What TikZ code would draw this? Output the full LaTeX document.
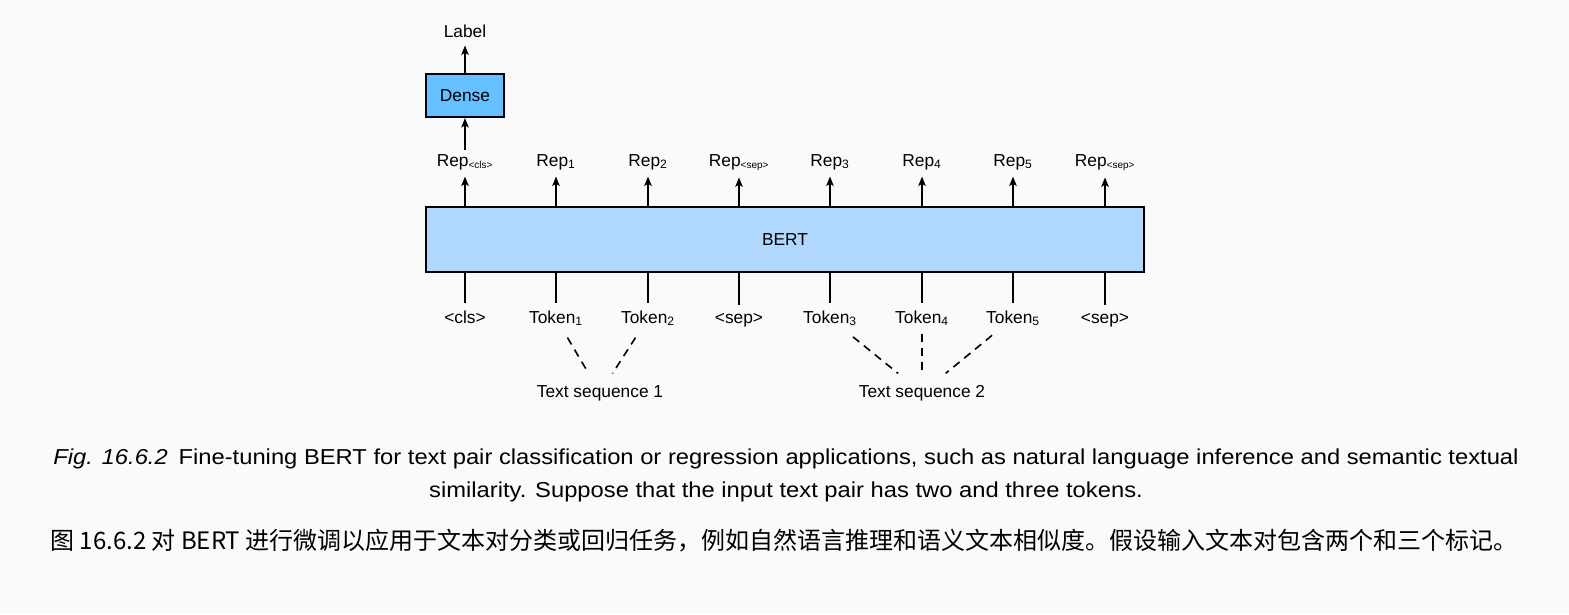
\documentclass[tikz,border=0pt]{standalone}
\usepackage{fontspec}
\setmainfont{Liberation Sans}
\newfontfamily\capfont[FakeStretch=1.1]{Liberation Sans}
\newfontfamily\zhfont{Noto Sans CJK SC}
\usetikzlibrary{positioning, arrows.meta, calc}
\definecolor{pagebg}{HTML}{FAFAFA}
\definecolor{densefill}{HTML}{66C0FF}
\definecolor{bertfill}{HTML}{B0D8FF}
\newcommand{\tinysub}[1]{\textsubscript{\fontsize{7.5pt}{8pt}\selectfont #1}}

\begin{document}
\begin{tikzpicture}[
    x=0.75pt, y=-0.75pt,
    txt/.style={font=\fontsize{13pt}{15pt}\selectfont, inner sep=0pt, anchor=base},
    layer/.style={draw, line width=1.5pt, inner sep=0pt, font=\fontsize{13pt}{15pt}\selectfont},
    up/.style={line width=1.4pt, -{Stealth[length=7pt, width=5.5pt, inset=1.5pt]}},
    feed/.style={line width=1.4pt},
    seqline/.style={line width=1.2pt, dash pattern=on 6pt off 4.5pt},
    caption/.style={anchor=base, inner sep=0pt, font=\capfont\fontsize{16.2pt}{19pt}\selectfont},
  ]
    \fill[pagebg] (0,0) rectangle (1569,614);

    % BERT and the dense layer on top
    \node[layer, fill=bertfill, minimum width=538.5pt, minimum height=48.75pt] (bert) at (785,239.5) {BERT};
    \node[layer, fill=densefill, minimum width=58.5pt, minimum height=32.25pt] (dense) at (465,95.5) {Dense};
    \node[txt] (label) at (465,37) {Label};

    % outputs
    \node[txt] (rcls) at (465,166) {Rep\tinysub{<cls>}};
    \node[txt] (r1) at (556,166) {Rep\textsubscript{1}};
    \node[txt] (r2) at (648,166) {Rep\textsubscript{2}};
    \node[txt] (rsepa) at (739,166) {Rep\tinysub{<sep>}};
    \node[txt] (r3) at (830,166) {Rep\textsubscript{3}};
    \node[txt] (r4) at (922,166) {Rep\textsubscript{4}};
    \node[txt] (r5) at (1013,166) {Rep\textsubscript{5}};
    \node[txt] (rsepb) at (1105,166) {Rep\tinysub{<sep>}};

    % inputs
    \node[txt] (tcls) at (465,323) {<cls>};
    \node[txt] (t1) at (556,323) {Token\textsubscript{1}};
    \node[txt] (t2) at (648,323) {Token\textsubscript{2}};
    \node[txt] (tsepa) at (739,323) {<sep>};
    \node[txt] (t3) at (830,323) {Token\textsubscript{3}};
    \node[txt] (t4) at (922,323) {Token\textsubscript{4}};
    \node[txt] (t5) at (1013,323) {Token\textsubscript{5}};
    \node[txt] (tsepb) at (1105,323) {<sep>};

    \node[txt] (seqa) at (600,397) {Text sequence 1};
    \node[txt] (seqb) at (922,397) {Text sequence 2};

    \foreach \r in {rcls, r1, r2, rsepa, r3, r4, r5, rsepb}
      \draw[up, shorten >=5pt] (bert.north -| \r) -- (\r.south);
    \foreach \t in {tcls, t1, t2, tsepa, t3, t4, t5, tsepb}
      \draw[feed, shorten >=5.5pt] (bert.south -| \t) -- (\t.north);

    \draw[up, shorten <=3pt] (rcls.north) -- (dense.south);
    \draw[up, shorten >=6pt] (dense.north) -- (label.south);

    % which tokens belong to which sequence
    \draw[seqline] ($(t1)!0.26!(seqa)$) -- ($(t1)!0.74!(seqa)$);
    \draw[seqline] ($(t2)!0.26!(seqa)$) -- ($(t2)!0.74!(seqa)$);
    \draw[seqline] ($(t3)!0.25!(seqb)$) -- ($(t3)!0.74!(seqb)$);
    \draw[seqline] ($(t4)!0.21!(seqb)$) -- ($(t4)!0.74!(seqb)$);
    \draw[seqline] ($(t5)!0.23!(seqb)$) -- ($(t5)!0.74!(seqb)$);

    % caption
    \node[caption] (capa) at (786,464)
      {\textit{Fig. 16.6.2}\hspace{0.5em}Fine-tuning BERT for text pair classification or regression applications, such as natural language inference and semantic textual};
    \node[caption] (capb) at (786,497)
      {similarity. Suppose that the input text pair has two and three tokens.};
    \node[anchor=base, inner sep=0pt, font=\zhfont\fontsize{18pt}{21pt}\selectfont] (capzh) at (784,549)
      {图 16.6.2 对 BERT 进行微调以应用于文本对分类或回归任务，例如自然语言推理和语义文本相似度。假设输入文本对包含两个和三个标记。};
\end{tikzpicture}
\end{document}
